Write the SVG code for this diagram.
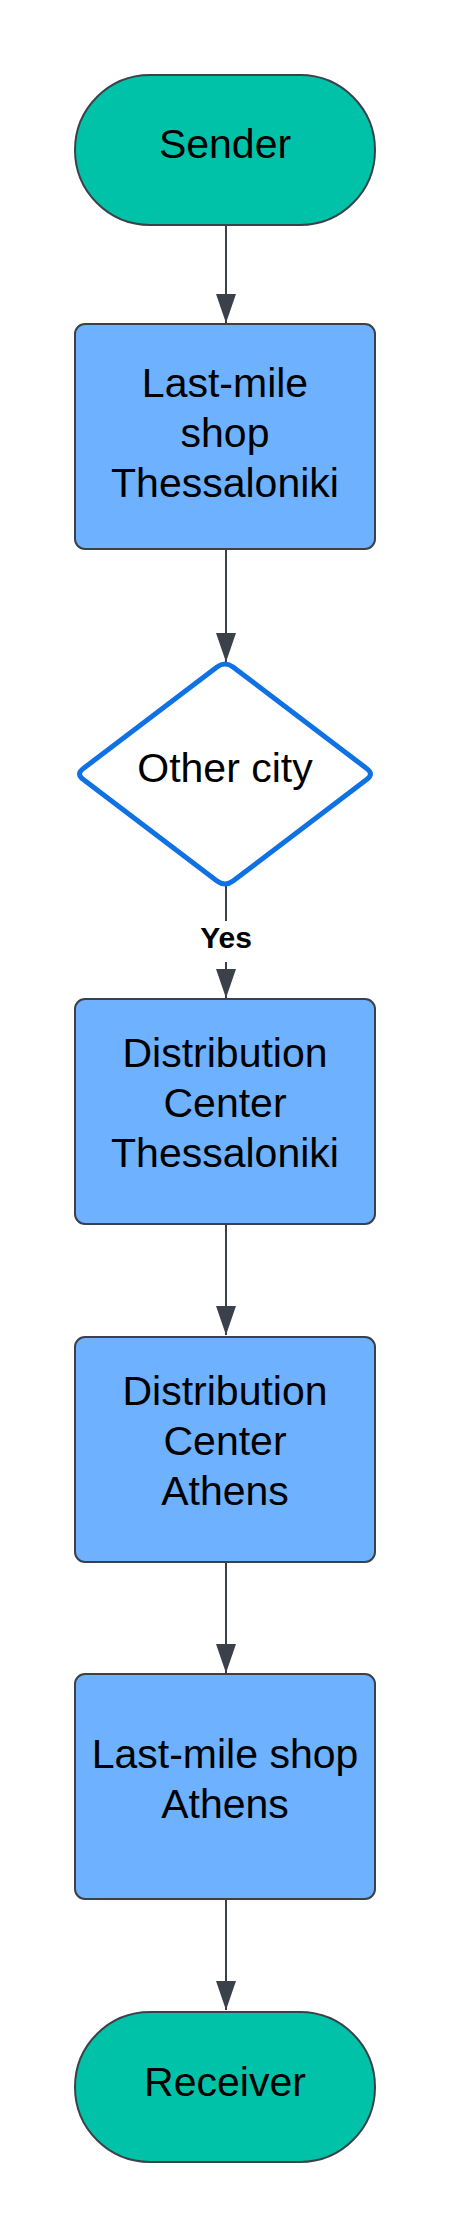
<svg xmlns="http://www.w3.org/2000/svg" width="450" height="2237" viewBox="0 0 450 2237">
<style>
.term{fill:#00C2A8;stroke:#3A414A;stroke-width:2}
.proc{fill:#6DB1FF;stroke:#3A414A;stroke-width:2}
.dec{fill:#FFFFFF;stroke:#1071E5;stroke-width:5;stroke-linejoin:round}
.t{font-family:"Liberation Sans",Arial,sans-serif;font-size:41px;fill:#000000;text-anchor:middle}
.lbl{font-family:"Liberation Sans",Arial,sans-serif;font-size:30px;font-weight:bold;fill:#000000;text-anchor:middle}
.c{fill:none;stroke:#3A414A;stroke-width:2}
</style>
<defs>
<marker id="ah" markerUnits="userSpaceOnUse" markerWidth="30" markerHeight="22" viewBox="0 0 30 22" refX="29" refY="11" orient="auto">
<path d="M0,1 L29,11 L0,21 Z" fill="#3A414A"/>
</marker>
</defs>
<rect width="450" height="2237" fill="#FFFFFF"/>
<g id="connectors">
<line class="c" x1="226" y1="225" x2="226" y2="323" marker-end="url(#ah)"/>
<line class="c" x1="226" y1="549" x2="226" y2="662" marker-end="url(#ah)"/>
<line class="c" x1="226" y1="885" x2="226" y2="921"/>
<line class="c" x1="226" y1="962" x2="226" y2="998" marker-end="url(#ah)"/>
<text class="lbl" x="226" y="948">Yes</text>
<line class="c" x1="226" y1="1224" x2="226" y2="1335" marker-end="url(#ah)"/>
<line class="c" x1="226" y1="1562" x2="226" y2="1673" marker-end="url(#ah)"/>
<line class="c" x1="226" y1="1899" x2="226" y2="2010" marker-end="url(#ah)"/>
</g>
<g id="sender">
<rect class="term" x="75" y="75" width="300" height="150" rx="75" ry="75"/>
<text class="t" x="225" y="158">Sender</text>
</g>
<g id="lastmile-thessaloniki">
<rect class="proc" x="75" y="324" width="300" height="225" rx="10" ry="10"/>
<text class="t" x="225" y="397">Last-mile</text>
<text class="t" x="225" y="447">shop</text>
<text class="t" x="225" y="497">Thessaloniki</text>
</g>
<g id="other-city">
<path class="dec" d="M217,667 Q225,661 233,667 L366,768 Q375,774 366,780 L233,881 Q225,887 217,881 L84,780 Q75,774 84,768 Z"/>
<text class="t" x="225" y="782">Other city</text>
</g>
<g id="dc-thessaloniki">
<rect class="proc" x="75" y="999" width="300" height="225" rx="10" ry="10"/>
<text class="t" x="225" y="1067">Distribution</text>
<text class="t" x="225" y="1117">Center</text>
<text class="t" x="225" y="1167">Thessaloniki</text>
</g>
<g id="dc-athens">
<rect class="proc" x="75" y="1337" width="300" height="225" rx="10" ry="10"/>
<text class="t" x="225" y="1405">Distribution</text>
<text class="t" x="225" y="1455">Center</text>
<text class="t" x="225" y="1505">Athens</text>
</g>
<g id="lastmile-athens">
<rect class="proc" x="75" y="1674" width="300" height="225" rx="10" ry="10"/>
<text class="t" x="225" y="1768">Last-mile shop</text>
<text class="t" x="225" y="1818">Athens</text>
</g>
<g id="receiver">
<rect class="term" x="75" y="2012" width="300" height="150" rx="75" ry="75"/>
<text class="t" x="225" y="2096">Receiver</text>
</g>
</svg>
